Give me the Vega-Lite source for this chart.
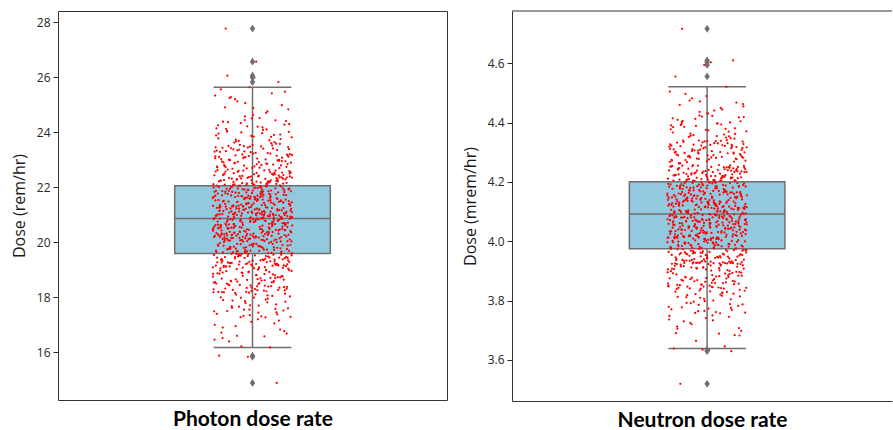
{
  "$schema": "https://vega.github.io/schema/vega-lite/v6.json",
  "background": "white",
  "padding": {"left": 10, "top": 10, "right": 0, "bottom": 0},
  "spacing": 14,
  "config": {
    "view": {"stroke": "#333333", "strokeWidth": 1},
    "axisY": {
      "grid": false, "domain": false, "domainColor": "#333333",
      "labelFont": "Open Sans", "labelFontSize": 12, "labelColor": "#262626", "labelPadding": 3,
      "tickColor": "#262626", "tickSize": 5,
      "titleFont": "Open Sans", "titleFontSize": 16, "titleFontWeight": "normal", "titleColor": "#1a1a1a", "titlePadding": 9
    },
    "axisX": {
      "grid": false, "domain": false, "domainColor": "#333333", "labels": false, "ticks": false,
      "titleFont": "Lato", "titleFontSize": 21, "titleFontWeight": "bold", "titleColor": "#000000", "titlePadding": 8
    }
  },
  "datasets": {
    "photonBox": [{"q1": 19.59, "median": 20.86, "q3": 22.05, "lower": 16.18, "upper": 25.63}],
    "photonOut": [{"dose": 27.76}, {"dose": 26.56}, {"dose": 26.05}, {"dose": 25.98}, {"dose": 25.82}, {"dose": 15.88}, {"dose": 15.84}, {"dose": 14.89}],
    "neutronBox": [{"q1": 3.975, "median": 4.092, "q3": 4.201, "lower": 3.638, "upper": 4.521}],
    "neutronOut": [{"dose": 4.717}, {"dose": 4.61}, {"dose": 4.604}, {"dose": 4.595}, {"dose": 4.556}, {"dose": 3.634}, {"dose": 3.629}, {"dose": 3.519}],
    "photon": [
      {"dose":20.47},{"dose":21.12},{"dose":20.03},{"dose":21.58},{"dose":20.86},{"dose":19.98},{"dose":21.33},{"dose":20.71},{"dose":21.69},{"dose":20.25},
      {"dose":22.12},{"dose":19.62},{"dose":23.12},{"dose":18.62},{"dose":23.62},{"dose":17.52},{"dose":24.62},{"dose":16.52},{"dose":25.41},{"dose":16.22},
      {"dose":20.92},{"dose":21.04},{"dose":20.38},{"dose":21.47},{"dose":20.11},{"dose":20.64},{"dose":21.26},{"dose":20.99},{"dose":21.71},{"dose":20.18},
      {"dose":21.84},{"dose":19.31},{"dose":22.78},{"dose":18.29},{"dose":24.08},{"dose":17.88},{"dose":24.98},{"dose":17.11},{"dose":25.55},{"dose":16.18},
      {"dose":20.55},{"dose":21.39},{"dose":20.83},{"dose":20.07},{"dose":21.15},{"dose":21.62},{"dose":20.33},{"dose":20.77},{"dose":21.08},{"dose":20.44},
      {"dose":22.47},{"dose":19.88},{"dose":23.41},{"dose":18.88},{"dose":23.81},{"dose":17.31},{"dose":25.27},{"dose":16.83},{"dose":25.63},{"dose":15.88},
      {"dose":21.51},{"dose":20.29},{"dose":20.95},{"dose":21.22},{"dose":20.61},{"dose":21.74},{"dose":20.14},{"dose":20.88},{"dose":21.43},{"dose":20.52},
      {"dose":21.96},{"dose":19.14},{"dose":22.93},{"dose":18.41},{"dose":24.33},{"dose":18.03},{"dose":24.51},{"dose":16.4},{"dose":25.82},{"dose":15.84},
      {"dose":21.01},{"dose":20.36},{"dose":21.29},{"dose":20.69},{"dose":21.56},{"dose":20.05},{"dose":20.81},{"dose":21.18},{"dose":20.42},{"dose":21.66},
      {"dose":22.31},{"dose":19.55},{"dose":23.27},{"dose":18.97},{"dose":23.7},{"dose":17.66},{"dose":24.83},{"dose":17.2},{"dose":26.05},{"dose":14.89},
      {"dose":20.23},{"dose":20.97},{"dose":21.35},{"dose":20.58},{"dose":21.05},{"dose":20.31},{"dose":21.48},{"dose":20.74},{"dose":20.09},{"dose":21.21},
      {"dose":21.78},{"dose":19.76},{"dose":22.69},{"dose":18.17},{"dose":23.95},{"dose":17.95},{"dose":25.12},{"dose":16.68},{"dose":26.56},{"dose":27.76},
      {"dose":20.66},{"dose":21.6},{"dose":20.19},{"dose":20.9},{"dose":21.31},{"dose":20.49},{"dose":21.11},{"dose":20.27},{"dose":21.53},{"dose":20.79},
      {"dose":22.58},{"dose":19.09},{"dose":23.5},{"dose":18.73},{"dose":24.21},{"dose":17.4},{"dose":24.7},{"dose":16.95},{"dose":25.47},{"dose":25.98},
      {"dose":20.01},{"dose":21.41},{"dose":20.63},{"dose":21.09},{"dose":20.35},{"dose":21.7},{"dose":20.85},{"dose":20.13},{"dose":21.25},{"dose":20.54},
      {"dose":22.05},{"dose":19.43},{"dose":23.04},{"dose":18.5},{"dose":23.58},{"dose":17.79},{"dose":25.33},{"dose":16.58},
      {"dose":20.94},{"dose":21.45},{"dose":20.22},{"dose":21.02},{"dose":20.68},{"dose":21.37},{"dose":20.4},{"dose":21.64},{"dose":20.06},{"dose":20.8},
      {"dose":21.9},{"dose":19.91},{"dose":22.85},{"dose":19.02},{"dose":24.4},{"dose":18.11},{"dose":24.9},{"dose":17.05},
      {"dose":21.17},{"dose":20.5},{"dose":21.55},{"dose":20.28},{"dose":20.91},{"dose":21.28},{"dose":20.6},{"dose":21.0},{"dose":20.16},{"dose":21.49},
      {"dose":22.39},{"dose":19.27},{"dose":23.35},{"dose":18.34},{"dose":23.88},{"dose":17.27},{"dose":25.2},{"dose":16.77},
      {"dose":20.73},{"dose":21.13},{"dose":20.37},{"dose":21.67},{"dose":20.03},{"dose":20.87},{"dose":21.23},{"dose":20.46},{"dose":21.59},{"dose":20.24},
      {"dose":22.17},{"dose":19.68},{"dose":23.18},{"dose":18.81},{"dose":24.12},{"dose":17.58},{"dose":24.57},{"dose":16.46},
      {"dose":20.98},{"dose":21.34},{"dose":20.57},{"dose":21.06},{"dose":20.32},{"dose":21.44},{"dose":20.76},{"dose":20.1},{"dose":21.19},{"dose":20.65},
      {"dose":21.81},{"dose":19.5},{"dose":22.72},{"dose":18.22},{"dose":23.66},{"dose":17.84},
      {"dose":21.63},{"dose":20.2},{"dose":20.89},{"dose":21.3},{"dose":20.48},{"dose":21.1},{"dose":20.26},{"dose":21.52},{"dose":20.78},{"dose":19.97},
      {"dose":22.63},{"dose":19.19},{"dose":23.46},{"dose":18.66},{"dose":24.02},{"dose":17.45},
      {"dose":21.4},{"dose":20.62},{"dose":21.07},{"dose":20.34},{"dose":21.72},{"dose":20.84},{"dose":20.12},{"dose":21.24},{"dose":20.53},{"dose":20.93},
      {"dose":22.0},{"dose":19.83},{"dose":22.99},{"dose":18.93},{"dose":23.77},{"dose":18.07},
      {"dose":21.46},{"dose":20.21},{"dose":21.03},{"dose":20.67},{"dose":21.36},{"dose":20.41},{"dose":21.65},{"dose":20.08},{"dose":20.82},{"dose":21.16},
      {"dose":22.26},{"dose":19.36},{"dose":23.22},{"dose":18.45},{"dose":24.29},{"dose":17.7},
      {"dose":20.51},{"dose":21.57},{"dose":20.3},{"dose":20.96},{"dose":21.27},{"dose":20.59},{"dose":20.99},{"dose":20.17},{"dose":21.5},{"dose":20.72},
      {"dose":21.93},{"dose":19.6},{"dose":22.81},{"dose":18.58},{"dose":23.91},{"dose":17.35},
      {"dose":21.14},{"dose":20.39},{"dose":21.68},{"dose":20.04},{"dose":20.86},{"dose":21.2},{"dose":20.45},{"dose":21.61},{"dose":20.23},{"dose":21.0},
      {"dose":22.51},{"dose":19.07},{"dose":23.53},{"dose":18.19},{"dose":23.6},{"dose":17.98},
      {"dose":21.33},{"dose":20.56},{"dose":21.08},{"dose":20.31},{"dose":21.42},{"dose":20.75},{"dose":20.11},{"dose":21.22},{"dose":20.64},{"dose":21.58},
      {"dose":22.09},{"dose":19.72},{"dose":23.08},{"dose":18.85},{"dose":24.17},{"dose":17.62},
      {"dose":20.19},{"dose":20.9},{"dose":21.29},{"dose":20.49},{"dose":21.12},{"dose":20.27},{"dose":21.54},{"dose":20.8},{"dose":20.0},{"dose":21.38},
      {"dose":21.87},{"dose":19.4},{"dose":22.88},{"dose":18.37},{"dose":23.84},{"dose":17.9},
      {"dose":20.63},{"dose":21.05},{"dose":20.36},{"dose":21.73},{"dose":20.83},{"dose":20.14},{"dose":21.26},{"dose":20.52},{"dose":20.95},{"dose":21.47},
      {"dose":22.35},{"dose":19.94},{"dose":23.31},{"dose":18.7},{"dose":24.44},{"dose":17.49},
      {"dose":20.22},{"dose":21.02},{"dose":20.69},{"dose":21.35},{"dose":20.43},{"dose":21.66},{"dose":20.07},{"dose":20.85},{"dose":21.18},{"dose":20.5},
      {"dose":22.21},{"dose":19.23},{"dose":22.75},{"dose":19.0},{"dose":23.73},{"dose":18.13},
      {"dose":21.56},{"dose":20.29},{"dose":20.97},{"dose":21.3},{"dose":20.61},{"dose":21.01},{"dose":20.15},{"dose":21.49},{"dose":20.74},{"dose":21.15},
      {"dose":21.76},{"dose":19.57},{"dose":23.15},{"dose":18.26},{"dose":24.05},{"dose":17.74},
      {"dose":20.38},{"dose":21.69},{"dose":20.05},{"dose":20.88},
      {"dose":22.44},{"dose":19.85},{"dose":23.43},{"dose":18.54},{"dose":23.99},{"dose":17.29},
      {"dose":22.02},{"dose":19.12},{"dose":22.96},{"dose":18.91},{"dose":24.25},{"dose":17.82},
      {"dose":22.29},{"dose":19.47},{"dose":23.25},{"dose":18.32},{"dose":23.64},{"dose":17.55},
      {"dose":21.99},{"dose":19.79},{"dose":22.67},{"dose":18.77},{"dose":23.86},{"dose":18.0},
      {"dose":22.55},{"dose":19.3},{"dose":23.38},{"dose":18.48},{"dose":24.36},{"dose":17.38},
      {"dose":22.14},{"dose":19.65},{"dose":23.01},{"dose":18.16},
      {"dose":21.82},{"dose":19.06},{"dose":22.9},{"dose":18.83},
      {"dose":22.41},{"dose":19.52},{"dose":23.48},{"dose":18.6},
      {"dose":22.07},{"dose":19.89},{"dose":23.1},{"dose":18.39},
      {"dose":21.95},{"dose":19.2},{"dose":22.83},{"dose":18.95},
      {"dose":22.6},{"dose":19.71},{"dose":23.29},{"dose":18.24},
      {"dose":22.19},{"dose":19.38},{"dose":22.7},{"dose":18.68},
      {"dose":21.88},{"dose":19.93},{"dose":23.2},{"dose":18.52},
      {"dose":22.33},{"dose":19.16},{"dose":23.44},{"dose":18.87},
      {"dose":22.03},{"dose":19.58},{"dose":22.94},{"dose":18.3},
      {"dose":22.49},{"dose":19.81},{"dose":23.06},{"dose":18.75},
      {"dose":21.79},{"dose":19.25},{"dose":22.79},{"dose":18.43},
      {"dose":22.24},{"dose":19.45},{"dose":23.36},{"dose":19.04},
      {"dose":21.97},{"dose":19.74},{"dose":23.14},{"dose":18.2},
      {"dose":22.57},{"dose":19.1},{"dose":22.87},{"dose":18.64},
      {"dose":22.1},{"dose":19.63},{"dose":23.52},{"dose":18.9},
      {"dose":21.85},{"dose":19.34},{"dose":22.98},{"dose":18.35},
      {"dose":22.37},{"dose":19.87},{"dose":23.24},{"dose":18.57},
      {"dose":22.16},{"dose":19.21},{"dose":22.73},{"dose":18.8},
      {"dose":21.91},{"dose":19.54},{"dose":23.4},{"dose":18.27},
      {"dose":22.53},{"dose":19.92},{"dose":23.02},{"dose":18.71},
      {"dose":22.06},{"dose":19.28},{"dose":22.91},{"dose":18.47},
      {"dose":22.28},{"dose":19.67},{"dose":23.33},{"dose":18.98},
      {"dose":21.8},{"dose":19.42},{"dose":22.76},{"dose":18.18},
      {"dose":22.45},{"dose":19.08},{"dose":23.17},{"dose":18.61},
      {"dose":22.01},{"dose":19.78},{"dose":23.47},{"dose":18.86},
      {"dose":22.22},{"dose":19.49},{"dose":22.84},{"dose":18.4},
      {"dose":21.94},{"dose":19.17},{"dose":23.09},{"dose":18.55},
      {"dose":22.61},{"dose":19.84},
      {"dose":22.13},{"dose":19.33},{"dose":21.86},{"dose":19.61},{"dose":22.32},{"dose":19.9},{"dose":22.04},{"dose":19.24},
      {"dose":22.42},{"dose":19.56},{"dose":21.77},{"dose":19.73},{"dose":22.27},{"dose":19.13},{"dose":21.98},{"dose":19.46},
      {"dose":22.52},{"dose":19.8},{"dose":22.11},{"dose":19.37},{"dose":21.83},{"dose":19.66},{"dose":22.38},{"dose":19.05},
      {"dose":22.18},{"dose":19.53},{"dose":21.92},{"dose":19.86},{"dose":22.64},{"dose":19.22},{"dose":22.08},{"dose":19.7},
      {"dose":22.3},{"dose":19.41},{"dose":21.89},{"dose":19.95},{"dose":22.46},{"dose":19.15},{"dose":22.15},{"dose":19.59},
      {"dose":21.84},{"dose":19.82},{"dose":22.36},{"dose":19.29},{"dose":22.0},{"dose":19.48},{"dose":22.56},{"dose":19.75},
      {"dose":22.2},{"dose":19.11},{"dose":21.96},{"dose":19.64},{"dose":22.43},{"dose":19.35},{"dose":22.09},{"dose":19.9},
      {"dose":21.79},{"dose":19.26},{"dose":22.25},{"dose":19.51},{"dose":22.5},{"dose":19.69},{"dose":21.87},{"dose":19.18},
      {"dose":22.34},{"dose":19.44},{"dose":22.12},{"dose":19.77},
      {"dose":20.44},{"dose":21.19},{"dose":22.8},{"dose":18.56},{"dose":20.02},{"dose":21.61},{"dose":21.92},{"dose":19.58},{"dose":20.9},{"dose":20.28},
      {"dose":21.36},{"dose":20.67},{"dose":23.68},{"dose":17.6},{"dose":21.07},{"dose":20.13},{"dose":22.23},{"dose":19.21},{"dose":21.52},{"dose":20.79},
      {"dose":20.35},{"dose":21.24},{"dose":23.22},{"dose":18.9},{"dose":20.58},{"dose":21.68},{"dose":22.54},{"dose":19.84},{"dose":20.06},{"dose":20.97},
      {"dose":21.42},{"dose":20.51},{"dose":24.75},{"dose":16.6},{"dose":21.1},{"dose":20.21},{"dose":21.78},{"dose":19.37},{"dose":21.57},{"dose":20.84},
      {"dose":20.4},{"dose":21.31},{"dose":22.95},{"dose":18.23},{"dose":20.62},{"dose":21.73},{"dose":22.4},{"dose":19.69},{"dose":20.17},{"dose":20.93},
      {"dose":21.2},{"dose":20.47},{"dose":24.14},{"dose":17.92},{"dose":21.64},{"dose":20.26},{"dose":22.08},{"dose":19.1},{"dose":21.03},{"dose":20.71},
      {"dose":21.45},{"dose":20.09},{"dose":23.42},{"dose":18.72},{"dose":20.87},{"dose":21.27},{"dose":21.86},{"dose":19.49},{"dose":20.55},{"dose":21.5},
      {"dose":20.32},{"dose":20.99},{"dose":25.05},{"dose":17.0},{"dose":21.13},{"dose":20.65},{"dose":22.31},{"dose":19.91},{"dose":21.7},{"dose":20.01},
      {"dose":20.82},{"dose":21.38},{"dose":22.71},{"dose":18.44},{"dose":20.43},{"dose":21.08},{"dose":22.62},{"dose":19.28},{"dose":20.24},{"dose":21.55},
      {"dose":20.76},{"dose":20.12},{"dose":23.9},{"dose":17.33},{"dose":21.32},{"dose":20.6},{"dose":22.01},{"dose":19.62},{"dose":21.66},{"dose":20.19},
      {"dose":20.94},{"dose":21.22},{"dose":23.11},{"dose":19.01},{"dose":20.5},{"dose":21.6},{"dose":21.81},{"dose":19.15},{"dose":20.3},{"dose":21.04},
      {"dose":20.7},{"dose":21.41},{"dose":24.38},{"dose":18.05},{"dose":20.08},{"dose":20.89},{"dose":22.17},{"dose":19.77},{"dose":21.17},{"dose":20.45},
      {"dose":21.53},{"dose":20.27},{"dose":23.34},{"dose":18.31},{"dose":20.98},{"dose":21.29},{"dose":22.47},{"dose":19.43},{"dose":20.57},{"dose":21.72},
      {"dose":20.15},{"dose":20.85},{"dose":24.5},{"dose":16.72},{"dose":21.11},{"dose":20.37},{"dose":21.95},{"dose":19.06},{"dose":21.48},{"dose":20.78},
      {"dose":20.04},{"dose":21.25},{"dose":22.86},{"dose":18.65},{"dose":20.63},{"dose":21.65},{"dose":22.26},{"dose":19.55},{"dose":20.2},{"dose":20.91},
      {"dose":21.35},{"dose":20.53},{"dose":23.75},{"dose":17.71},{"dose":21.01},{"dose":20.33},{"dose":22.59},{"dose":19.88},{"dose":21.58},{"dose":20.74},
      {"dose":20.1},{"dose":21.21},{"dose":23.05},{"dose":18.84},{"dose":20.66},{"dose":21.44},{"dose":21.88},{"dose":19.32},{"dose":20.23},{"dose":20.96},
      {"dose":21.14},{"dose":20.48},{"dose":25.24},{"dose":17.15},{"dose":21.69},{"dose":20.29},{"dose":22.12},{"dose":19.66},{"dose":21.06},{"dose":20.8},
      {"dose":21.39},{"dose":20.07},{"dose":23.49},{"dose":18.18},{"dose":20.86},{"dose":21.3},{"dose":22.36},{"dose":19.19},{"dose":20.54},{"dose":21.62},
      {"dose":20.39},{"dose":24.01},{"dose":17.44},{"dose":21.76},{"dose":19.8},{"dose":22.68},{"dose":18.5},{"dose":22.05},{"dose":19.46},{"dose":24.27},
      {"dose":17.99},{"dose":22.44},{"dose":19.93},{"dose":23.19},{"dose":18.96},{"dose":21.99},{"dose":19.24},{"dose":23.57},{"dose":17.55},{"dose":22.21},
      {"dose":19.6},{"dose":22.92},{"dose":18.38},{"dose":22.52},{"dose":19.12},{"dose":24.43},{"dose":17.86},{"dose":21.83},{"dose":19.73},{"dose":23.37},
      {"dose":18.76},{"dose":22.15},{"dose":19.39},{"dose":23.83},{"dose":17.28},{"dose":22.39},{"dose":19.86},{"dose":23.0},{"dose":18.27},{"dose":21.9},
      {"dose":19.27},{"dose":24.1},{"dose":18.1},{"dose":22.28},{"dose":19.52},{"dose":22.77},{"dose":18.59},{"dose":22.6},{"dose":19.09},{"dose":23.96},
      {"dose":17.67},{"dose":22.03},{"dose":19.7},{"dose":23.28},{"dose":18.92},{"dose":21.79},{"dose":19.34},{"dose":24.2},{"dose":17.5},{"dose":22.33},
      {"dose":19.81},{"dose":23.45},{"dose":18.42},{"dose":22.1},{"dose":19.16},{"dose":24.88},{"dose":16.9},{"dose":22.48},{"dose":19.57},{"dose":22.89},
      {"dose":18.69},{"dose":21.94},{"dose":19.44},{"dose":23.13},{"dose":18.2},{"dose":22.19},{"dose":19.94},{"dose":22.74},{"dose":18.81},{"dose":22.57},
      {"dose":19.22},{"dose":23.3},{"dose":18.53},{"dose":21.85},{"dose":19.64},{"dose":23.07},{"dose":18.35},{"dose":22.24},{"dose":19.31},{"dose":23.54},
      {"dose":18.99},{"dose":22.42},{"dose":19.76},{"dose":22.97},{"dose":18.63},{"dose":22.06},{"dose":19.5},{"dose":23.16},{"dose":18.25},{"dose":21.97},
      {"dose":19.14},{"dose":22.82},{"dose":18.78},{"dose":22.35},{"dose":19.83}
    ],
    "neutron": [
      {"dose":4.087},{"dose":4.142},{"dose":4.021},{"dose":4.163},{"dose":4.055},{"dose":4.118},{"dose":4.009},{"dose":4.097},{"dose":4.151},{"dose":4.038},
      {"dose":4.212},{"dose":3.962},{"dose":4.312},{"dose":3.882},{"dose":4.352},{"dose":3.782},{"dose":4.432},{"dose":3.712},{"dose":4.521},{"dose":3.664},
      {"dose":4.072},{"dose":4.129},{"dose":4.014},{"dose":4.108},{"dose":4.168},{"dose":4.046},{"dose":4.083},{"dose":4.137},{"dose":4.027},{"dose":4.061},
      {"dose":4.183},{"dose":3.931},{"dose":4.278},{"dose":3.849},{"dose":4.398},{"dose":3.818},{"dose":4.468},{"dose":3.741},{"dose":4.556},{"dose":3.645},
      {"dose":4.155},{"dose":4.092},{"dose":4.012},{"dose":4.121},{"dose":4.069},{"dose":4.146},{"dose":4.033},{"dose":4.101},{"dose":4.171},{"dose":4.052},
      {"dose":4.241},{"dose":3.988},{"dose":4.331},{"dose":3.908},{"dose":4.371},{"dose":3.761},{"dose":4.497},{"dose":3.683},{"dose":4.595},{"dose":3.638},
      {"dose":4.078},{"dose":4.134},{"dose":4.018},{"dose":4.113},{"dose":4.159},{"dose":4.043},{"dose":4.066},{"dose":4.125},{"dose":4.007},{"dose":4.094},
      {"dose":4.196},{"dose":3.944},{"dose":4.293},{"dose":3.861},{"dose":4.413},{"dose":3.833},{"dose":4.441},{"dose":3.73},{"dose":4.61},{"dose":3.634},
      {"dose":4.148},{"dose":4.029},{"dose":4.081},{"dose":4.166},{"dose":4.057},{"dose":4.105},{"dose":4.139},{"dose":4.016},{"dose":4.074},{"dose":4.119},
      {"dose":4.227},{"dose":3.975},{"dose":4.317},{"dose":3.917},{"dose":4.36},{"dose":3.796},{"dose":4.463},{"dose":3.75},{"dose":4.717},{"dose":3.629},
      {"dose":4.036},{"dose":4.089},{"dose":4.157},{"dose":4.049},{"dose":4.063},{"dose":4.131},{"dose":4.011},{"dose":4.099},{"dose":4.144},{"dose":4.024},
      {"dose":4.178},{"dose":3.996},{"dose":4.269},{"dose":3.847},{"dose":4.385},{"dose":3.825},{"dose":4.482},{"dose":3.698},{"dose":4.604},{"dose":3.519},
      {"dose":4.085},{"dose":4.173},{"dose":4.059},{"dose":4.111},{"dose":4.136},{"dose":4.019},{"dose":4.071},{"dose":4.127},{"dose":4.041},{"dose":4.093},
      {"dose":4.254},{"dose":3.926},{"dose":4.34},{"dose":3.893},{"dose":4.421},{"dose":3.77},{"dose":4.45},{"dose":3.725},{"dose":3.682},{"dose":3.633},
      {"dose":4.161},{"dose":4.053},{"dose":4.068},{"dose":4.115},{"dose":4.008},{"dose":4.102},{"dose":4.149},{"dose":4.031},{"dose":4.079},{"dose":4.164},
      {"dose":4.205},{"dose":3.953},{"dose":4.304},{"dose":3.87},{"dose":4.348},{"dose":3.809},{"dose":4.505},{"dose":3.688},
      {"dose":4.045},{"dose":4.107},{"dose":4.133},{"dose":4.015},{"dose":4.076},{"dose":4.122},{"dose":4.039},{"dose":4.091},{"dose":4.153},{"dose":4.058},
      {"dose":4.189},{"dose":4.001},{"dose":4.285},{"dose":3.912},{"dose":4.405},{"dose":3.831},{"dose":4.46},{"dose":3.745},
      {"dose":4.065},{"dose":4.14},{"dose":4.013},{"dose":4.096},{"dose":4.145},{"dose":4.026},{"dose":4.084},{"dose":4.169},{"dose":4.05},{"dose":4.112},
      {"dose":4.233},{"dose":3.937},{"dose":4.325},{"dose":3.854},{"dose":4.378},{"dose":3.757},{"dose":4.475},{"dose":3.707},
      {"dose":4.13},{"dose":4.02},{"dose":4.073},{"dose":4.124},{"dose":4.037},{"dose":4.088},{"dose":4.158},{"dose":4.047},{"dose":4.062},{"dose":4.117},
      {"dose":4.218},{"dose":3.978},{"dose":4.308},{"dose":3.901},{"dose":4.392},{"dose":3.788},{"dose":4.437},{"dose":3.736},
      {"dose":4.01},{"dose":4.1},{"dose":4.15},{"dose":4.03},{"dose":4.082},{"dose":4.167},{"dose":4.056},{"dose":4.109},{"dose":4.138},{"dose":4.017},
      {"dose":4.181},{"dose":3.96},{"dose":4.272},{"dose":3.842},{"dose":4.356},{"dose":3.814},
      {"dose":4.075},{"dose":4.12},{"dose":4.042},{"dose":4.095},{"dose":4.154},{"dose":4.051},{"dose":4.067},{"dose":4.128},{"dose":4.006},{"dose":4.098},
      {"dose":4.249},{"dose":3.929},{"dose":4.336},{"dose":3.886},{"dose":4.402},{"dose":3.775},
      {"dose":4.143},{"dose":4.025},{"dose":4.086},{"dose":4.172},{"dose":4.06},{"dose":4.114},{"dose":4.135},{"dose":4.022},{"dose":4.07},{"dose":4.126},
      {"dose":4.199},{"dose":3.993},{"dose":4.299},{"dose":3.913},{"dose":4.367},{"dose":3.827},
      {"dose":4.035},{"dose":4.09},{"dose":4.16},{"dose":4.048},{"dose":4.064},{"dose":4.116},{"dose":4.012},{"dose":4.103},{"dose":4.147},{"dose":4.032},
      {"dose":4.224},{"dose":3.946},{"dose":4.322},{"dose":3.865},{"dose":4.419},{"dose":3.8},
      {"dose":4.08},{"dose":4.165},{"dose":4.044},{"dose":4.106},{"dose":4.132},{"dose":4.018},{"dose":4.077},{"dose":4.123},{"dose":4.04},{"dose":4.093},
      {"dose":4.186},{"dose":3.97},{"dose":4.281},{"dose":3.878},{"dose":4.381},{"dose":3.765},
      {"dose":4.156},{"dose":4.054},{"dose":4.069},{"dose":4.141},{"dose":4.009},{"dose":4.097},{"dose":4.146},{"dose":4.028},{"dose":4.085},{"dose":4.17},
      {"dose":4.245},{"dose":3.924},{"dose":4.338},{"dose":3.839},{"dose":4.35},{"dose":3.822},
      {"dose":4.058},{"dose":4.11},{"dose":4.137},{"dose":4.023},{"dose":4.072},{"dose":4.129},{"dose":4.034},{"dose":4.088},{"dose":4.162},{"dose":4.05},
      {"dose":4.208},{"dose":3.982},{"dose":4.298},{"dose":3.905},{"dose":4.397},{"dose":3.792},
      {"dose":4.066},{"dose":4.118},{"dose":4.014},{"dose":4.104},{"dose":4.152},{"dose":4.031},{"dose":4.081},{"dose":4.166},{"dose":4.046},{"dose":4.108},
      {"dose":4.192},{"dose":3.95},{"dose":4.288},{"dose":3.857},{"dose":4.374},{"dose":3.812},
      {"dose":4.134},{"dose":4.019},{"dose":4.074},{"dose":4.121},{"dose":4.038},{"dose":4.091},{"dose":4.158},{"dose":4.055},{"dose":4.063},{"dose":4.144},
      {"dose":4.236},{"dose":4.004},{"dose":4.321},{"dose":3.89},{"dose":4.424},{"dose":3.779},
      {"dose":4.011},{"dose":4.099},{"dose":4.149},{"dose":4.027},{"dose":4.083},{"dose":4.173},{"dose":4.057},{"dose":4.112},{"dose":4.131},{"dose":4.016},
      {"dose":4.215},{"dose":3.933},{"dose":4.275},{"dose":3.92},{"dose":4.363},{"dose":3.836},
      {"dose":4.071},{"dose":4.125},{"dose":4.043},{"dose":4.095},{"dose":4.155},{"dose":4.049},{"dose":4.068},{"dose":4.119},{"dose":4.008},{"dose":4.101},
      {"dose":4.176},{"dose":3.967},{"dose":4.315},{"dose":3.846},{"dose":4.395},{"dose":3.804},
      {"dose":4.14},{"dose":4.033},{"dose":4.079},{"dose":4.163},
      {"dose":4.251},{"dose":3.995},{"dose":4.333},{"dose":3.874},{"dose":4.389},{"dose":3.759},
      {"dose":4.202},{"dose":3.927},{"dose":4.296},{"dose":3.911},{"dose":4.415},{"dose":3.816},
      {"dose":4.229},{"dose":3.957},{"dose":4.325},{"dose":3.852},{"dose":4.354},{"dose":3.785},
      {"dose":4.194},{"dose":3.989},{"dose":4.267},{"dose":3.897},{"dose":4.376},{"dose":3.83},
      {"dose":4.243},{"dose":3.94},{"dose":4.328},{"dose":3.868},{"dose":4.406},{"dose":3.768},
      {"dose":4.21},{"dose":3.974},{"dose":4.301},{"dose":3.841},
      {"dose":4.184},{"dose":3.923},{"dose":4.29},{"dose":3.903},
      {"dose":4.238},{"dose":3.962},{"dose":4.338},{"dose":3.88},
      {"dose":4.206},{"dose":3.999},{"dose":4.31},{"dose":3.859},
      {"dose":4.197},{"dose":3.93},{"dose":4.283},{"dose":3.915},
      {"dose":4.256},{"dose":3.981},{"dose":4.319},{"dose":3.844},
      {"dose":4.219},{"dose":3.948},{"dose":4.27},{"dose":3.888},
      {"dose":4.188},{"dose":4.003},{"dose":4.3},{"dose":3.872},
      {"dose":4.231},{"dose":3.926},{"dose":4.334},{"dose":3.907},
      {"dose":4.203},{"dose":3.968},{"dose":4.294},{"dose":3.85},
      {"dose":4.247},{"dose":3.991},{"dose":4.306},{"dose":3.895},
      {"dose":4.179},{"dose":3.935},{"dose":4.279},{"dose":3.863},
      {"dose":4.222},{"dose":3.955},{"dose":4.326},{"dose":3.919},
      {"dose":4.195},{"dose":3.984},{"dose":4.314},{"dose":3.84},
      {"dose":4.252},{"dose":3.925},{"dose":4.287},{"dose":3.884},
      {"dose":4.209},{"dose":3.973},{"dose":4.341},{"dose":3.91},
      {"dose":4.185},{"dose":3.944},{"dose":4.298},{"dose":3.855},
      {"dose":4.235},{"dose":3.997},{"dose":4.324},{"dose":3.877},
      {"dose":4.216},{"dose":3.931},{"dose":4.263},{"dose":3.9},
      {"dose":4.191},{"dose":3.964},{"dose":4.33},{"dose":3.847},
      {"dose":4.244},{"dose":4.002},{"dose":4.302},{"dose":3.891},
      {"dose":4.204},{"dose":3.938},{"dose":4.291},{"dose":3.867},
      {"dose":4.226},{"dose":3.977},{"dose":4.323},{"dose":3.918},
      {"dose":4.18},{"dose":3.952},{"dose":4.276},{"dose":3.843},
      {"dose":4.24},{"dose":3.928},{"dose":4.317},{"dose":3.881},
      {"dose":4.201},{"dose":3.988},{"dose":4.337},{"dose":3.906},
      {"dose":4.221},{"dose":3.959},{"dose":4.284},{"dose":3.86},
      {"dose":4.193},{"dose":3.927},{"dose":4.309},{"dose":3.875},
      {"dose":4.257},{"dose":3.994},
      {"dose":4.213},{"dose":3.943},{"dose":4.187},{"dose":3.971},{"dose":4.232},{"dose":4.0},{"dose":4.207},{"dose":3.934},
      {"dose":4.246},{"dose":3.966},{"dose":4.177},{"dose":3.983},{"dose":4.225},{"dose":3.923},{"dose":4.198},{"dose":3.956},
      {"dose":4.25},{"dose":3.99},{"dose":4.211},{"dose":3.947},{"dose":4.182},{"dose":3.976},{"dose":4.237},{"dose":3.925},
      {"dose":4.217},{"dose":3.963},{"dose":4.19},{"dose":3.996},{"dose":4.255},{"dose":3.932},{"dose":4.2},{"dose":3.98},
      {"dose":4.228},{"dose":3.951},{"dose":4.186},{"dose":4.005},{"dose":4.242},{"dose":3.925},{"dose":4.214},{"dose":3.969},
      {"dose":4.184},{"dose":3.992},{"dose":4.234},{"dose":3.939},{"dose":4.205},{"dose":3.958},{"dose":4.253},{"dose":3.985},
      {"dose":4.22},{"dose":3.921},{"dose":4.196},{"dose":3.974},{"dose":4.239},{"dose":3.945},{"dose":4.209},{"dose":3.998},
      {"dose":4.179},{"dose":3.936},{"dose":4.223},{"dose":3.961},{"dose":4.248},{"dose":3.979},{"dose":4.188},{"dose":3.928},
      {"dose":4.23},{"dose":3.954},{"dose":4.212},{"dose":3.987},
      {"dose":4.084},{"dose":4.139},{"dose":4.262},{"dose":3.886},{"dose":4.025},{"dose":4.161},{"dose":4.186},{"dose":3.958},{"dose":4.058},{"dose":4.115},
      {"dose":4.01},{"dose":4.098},{"dose":4.358},{"dose":3.787},{"dose":4.148},{"dose":4.04},{"dose":4.215},{"dose":3.929},{"dose":4.071},{"dose":4.126},
      {"dose":4.017},{"dose":4.106},{"dose":4.29},{"dose":3.853},{"dose":4.167},{"dose":4.047},{"dose":4.243},{"dose":3.986},{"dose":4.082},{"dose":4.134},
      {"dose":4.029},{"dose":4.063},{"dose":4.445},{"dose":3.72},{"dose":4.154},{"dose":4.09},{"dose":4.178},{"dose":3.942},{"dose":4.013},{"dose":4.12},
      {"dose":4.068},{"dose":4.145},{"dose":4.318},{"dose":3.905},{"dose":4.034},{"dose":4.103},{"dose":4.229},{"dose":3.971},{"dose":4.17},{"dose":4.053},
      {"dose":4.077},{"dose":4.131},{"dose":4.391},{"dose":3.82},{"dose":4.02},{"dose":4.112},{"dose":4.201},{"dose":3.999},{"dose":4.158},{"dose":4.044},
      {"dose":4.065},{"dose":4.124},{"dose":4.274},{"dose":3.864},{"dose":4.007},{"dose":4.096},{"dose":4.19},{"dose":3.925},{"dose":4.15},{"dose":4.028},
      {"dose":4.08},{"dose":4.164},{"dose":4.472},{"dose":3.748},{"dose":4.056},{"dose":4.104},{"dose":4.236},{"dose":3.951},{"dose":4.141},{"dose":4.015},
      {"dose":4.073},{"dose":4.118},{"dose":4.331},{"dose":3.916},{"dose":4.037},{"dose":4.089},{"dose":4.254},{"dose":4.003},{"dose":4.157},{"dose":4.048},
      {"dose":4.062},{"dose":4.13},{"dose":4.37},{"dose":3.764},{"dose":4.012},{"dose":4.1},{"dose":4.207},{"dose":3.936},{"dose":4.143},{"dose":4.023},
      {"dose":4.086},{"dose":4.172},{"dose":4.282},{"dose":3.845},{"dose":4.06},{"dose":4.11},{"dose":4.182},{"dose":3.979},{"dose":4.135},{"dose":4.019},
      {"dose":4.07},{"dose":4.127},{"dose":4.41},{"dose":3.829},{"dose":4.042},{"dose":4.094},{"dose":4.22},{"dose":3.963},{"dose":4.16},{"dose":4.052},
      {"dose":4.067},{"dose":4.116},{"dose":4.305},{"dose":3.894},{"dose":4.009},{"dose":4.102},{"dose":4.248},{"dose":3.927},{"dose":4.147},{"dose":4.031},
      {"dose":4.078},{"dose":4.165},{"dose":4.49},{"dose":3.69},{"dose":4.045},{"dose":4.107},{"dose":4.195},{"dose":3.992},{"dose":4.133},{"dose":4.016},
      {"dose":4.075},{"dose":4.122},{"dose":4.339},{"dose":3.872},{"dose":4.039},{"dose":4.092},{"dose":4.226},{"dose":3.948},{"dose":4.153},{"dose":4.057},
      {"dose":4.064},{"dose":4.14},{"dose":4.362},{"dose":3.798},{"dose":4.014},{"dose":4.097},{"dose":4.257},{"dose":3.968},{"dose":4.146},{"dose":4.026},
      {"dose":4.083},{"dose":4.168},{"dose":4.268},{"dose":3.909},{"dose":4.05},{"dose":4.113},{"dose":4.188},{"dose":3.923},{"dose":4.129},{"dose":4.021},
      {"dose":4.072},{"dose":4.125},{"dose":4.386},{"dose":3.823},{"dose":4.036},{"dose":4.087},{"dose":4.212},{"dose":3.985},{"dose":4.159},{"dose":4.046},
      {"dose":4.061},{"dose":4.117},{"dose":4.296},{"dose":3.857},{"dose":4.011},{"dose":4.099},{"dose":4.239},{"dose":3.954},{"dose":4.151},{"dose":4.03},
      {"dose":4.081},{"dose":4.455},{"dose":3.733},{"dose":4.176},{"dose":4.001},{"dose":4.323},{"dose":3.899},{"dose":4.204},{"dose":3.934},{"dose":4.418},
      {"dose":3.773},{"dose":4.245},{"dose":3.966},{"dose":4.279},{"dose":3.843},{"dose":4.198},{"dose":3.994},{"dose":4.346},{"dose":3.806},{"dose":4.222},
      {"dose":3.929},{"dose":4.311},{"dose":3.884},{"dose":4.251},{"dose":3.96},{"dose":4.401},{"dose":3.834},{"dose":4.184},{"dose":3.987},{"dose":4.286},
      {"dose":3.914},{"dose":4.217},{"dose":3.941},{"dose":4.379},{"dose":3.758},{"dose":4.233},{"dose":3.976},{"dose":4.335},{"dose":3.866},{"dose":4.193},
      {"dose":3.924},{"dose":4.394},{"dose":3.791},{"dose":4.228},{"dose":3.964},{"dose":4.264},{"dose":3.879},{"dose":4.255},{"dose":3.997},{"dose":4.355},
      {"dose":3.811},{"dose":4.203},{"dose":3.932},{"dose":4.3},{"dose":3.84},{"dose":4.181},{"dose":3.982},{"dose":4.423},{"dose":3.777},{"dose":4.238},
      {"dose":3.949},{"dose":4.327},{"dose":3.902},{"dose":4.21},{"dose":4.004},{"dose":4.43},{"dose":3.705},{"dose":4.249},{"dose":3.927},{"dose":4.272},
      {"dose":3.859},{"dose":4.196},{"dose":3.97},{"dose":4.314},{"dose":3.892},{"dose":4.219},{"dose":3.937},{"dose":4.289},{"dose":3.918},{"dose":4.187},
      {"dose":3.99},{"dose":4.34},{"dose":3.848},{"dose":4.241},{"dose":3.956},{"dose":4.277},{"dose":3.876},{"dose":4.224},{"dose":3.926},{"dose":4.307},
      {"dose":3.908},{"dose":4.206},{"dose":3.973},{"dose":4.32},{"dose":3.854},{"dose":4.252},{"dose":3.946},{"dose":4.283},{"dose":3.896},{"dose":4.199},
      {"dose":3.983},{"dose":4.297},{"dose":3.869},{"dose":4.234},{"dose":3.996}
    ]
  },
  "hconcat": [
    {
      "width": 389,
      "height": 389,
      "layer": [
        {
          "data": {"name": "photonBox"},
          "mark": {"type": "rule", "color": "#6f6f6f", "strokeWidth": 1.5},
          "encoding": {
            "x": {"datum": 0, "type": "quantitative", "scale": {"domain": [-1, 1]}, "axis": {"title": "Photon dose rate"}},
            "y": {"field": "lower", "type": "quantitative", "scale": {"domain": [14.27, 28.4], "nice": false, "zero": false}, "axis": {"title": "Dose (rem/hr)", "values": [16, 18, 20, 22, 24, 26, 28]}},
            "y2": {"field": "upper"}
          }
        },
        {
          "data": {"name": "photonBox"},
          "mark": {"type": "rect", "fill": "#93c9de", "stroke": "#6f6f6f", "strokeWidth": 1.5},
          "encoding": {
            "x": {"datum": -0.4, "type": "quantitative", "scale": {"domain": [-1, 1]}, "axis": {"title": "Photon dose rate"}},
            "x2": {"datum": 0.4},
            "y": {"field": "q1", "type": "quantitative", "scale": {"domain": [14.27, 28.4], "nice": false, "zero": false}, "axis": {"title": "Dose (rem/hr)", "values": [16, 18, 20, 22, 24, 26, 28]}},
            "y2": {"field": "q3"}
          }
        },
        {
          "data": {"name": "photonBox"},
          "mark": {"type": "rule", "color": "#6f6f6f", "strokeWidth": 1.5},
          "encoding": {
            "x": {"datum": -0.4, "type": "quantitative", "scale": {"domain": [-1, 1]}, "axis": {"title": "Photon dose rate"}},
            "x2": {"datum": 0.4},
            "y": {"field": "median", "type": "quantitative", "scale": {"domain": [14.27, 28.4], "nice": false, "zero": false}, "axis": {"title": "Dose (rem/hr)", "values": [16, 18, 20, 22, 24, 26, 28]}}
          }
        },
        {
          "data": {"name": "photonBox"},
          "transform": [{"fold": ["lower", "upper"], "as": ["end", "value"]}],
          "mark": {"type": "rule", "color": "#6f6f6f", "strokeWidth": 1.5},
          "encoding": {
            "x": {"datum": -0.2, "type": "quantitative", "scale": {"domain": [-1, 1]}, "axis": {"title": "Photon dose rate"}},
            "x2": {"datum": 0.2},
            "y": {"field": "value", "type": "quantitative", "scale": {"domain": [14.27, 28.4], "nice": false, "zero": false}, "axis": {"title": "Dose (rem/hr)", "values": [16, 18, 20, 22, 24, 26, 28]}}
          }
        },
        {
          "data": {"name": "photon"},
          "transform": [
            {"window": [{"op": "row_number", "as": "i"}]},
            {"calculate": "((datum.i * 0.6180339887) % 1 - 0.5) * 0.41", "as": "jitter"}
          ],
          "mark": {"type": "circle", "color": "#ff0000", "size": 5, "opacity": 1},
          "encoding": {
            "x": {"field": "jitter", "type": "quantitative", "scale": {"domain": [-1, 1]}, "axis": {"title": "Photon dose rate"}},
            "y": {"field": "dose", "type": "quantitative", "scale": {"domain": [14.27, 28.4], "nice": false, "zero": false}, "axis": {"title": "Dose (rem/hr)", "values": [16, 18, 20, 22, 24, 26, 28]}}
          }
        },
        {
          "data": {"name": "photonOut"},
          "mark": {"type": "point", "shape": "M0,-1L0.7,0L0,1L-0.7,0Z", "filled": true, "color": "#6f6f6f", "size": 60, "opacity": 1},
          "encoding": {
            "x": {"datum": 0, "type": "quantitative", "scale": {"domain": [-1, 1]}, "axis": {"title": "Photon dose rate"}},
            "y": {"field": "dose", "type": "quantitative", "scale": {"domain": [14.27, 28.4], "nice": false, "zero": false}, "axis": {"title": "Dose (rem/hr)", "values": [16, 18, 20, 22, 24, 26, 28]}}
          }
        }
      ]
    },
    {
      "width": 380,
      "height": 390,
      "view": {"stroke": null},
      "layer": [
        {
          "data": {"name": "neutronBox"},
          "mark": {"type": "rule", "color": "#333333", "strokeWidth": 1},
          "encoding": {
            "y": {"datum": 4.777, "type": "quantitative", "scale": {"domain": [3.461, 4.777], "nice": false, "zero": false}, "axis": {"title": "Dose (mrem/hr)", "values": [3.6, 3.8, 4.0, 4.2, 4.4, 4.6], "format": ".1f", "domain": true}}
          }
        },
        {
          "data": {"name": "neutronBox"},
          "mark": {"type": "rule", "color": "#6f6f6f", "strokeWidth": 1.5},
          "encoding": {
            "x": {"datum": 0, "type": "quantitative", "scale": {"domain": [-1.0036, 0.951]}, "axis": {"title": "Neutron dose rate", "domain": true}},
            "y": {"field": "lower", "type": "quantitative", "scale": {"domain": [3.461, 4.777], "nice": false, "zero": false}, "axis": {"title": "Dose (mrem/hr)", "values": [3.6, 3.8, 4.0, 4.2, 4.4, 4.6], "format": ".1f", "domain": true}},
            "y2": {"field": "upper"}
          }
        },
        {
          "data": {"name": "neutronBox"},
          "mark": {"type": "rect", "fill": "#93c9de", "stroke": "#6f6f6f", "strokeWidth": 1.5},
          "encoding": {
            "x": {"datum": -0.4, "type": "quantitative", "scale": {"domain": [-1.0036, 0.951]}, "axis": {"title": "Neutron dose rate", "domain": true}},
            "x2": {"datum": 0.4},
            "y": {"field": "q1", "type": "quantitative", "scale": {"domain": [3.461, 4.777], "nice": false, "zero": false}, "axis": {"title": "Dose (mrem/hr)", "values": [3.6, 3.8, 4.0, 4.2, 4.4, 4.6], "format": ".1f", "domain": true}},
            "y2": {"field": "q3"}
          }
        },
        {
          "data": {"name": "neutronBox"},
          "mark": {"type": "rule", "color": "#6f6f6f", "strokeWidth": 1.5},
          "encoding": {
            "x": {"datum": -0.4, "type": "quantitative", "scale": {"domain": [-1.0036, 0.951]}, "axis": {"title": "Neutron dose rate", "domain": true}},
            "x2": {"datum": 0.4},
            "y": {"field": "median", "type": "quantitative", "scale": {"domain": [3.461, 4.777], "nice": false, "zero": false}, "axis": {"title": "Dose (mrem/hr)", "values": [3.6, 3.8, 4.0, 4.2, 4.4, 4.6], "format": ".1f", "domain": true}}
          }
        },
        {
          "data": {"name": "neutronBox"},
          "transform": [{"fold": ["lower", "upper"], "as": ["end", "value"]}],
          "mark": {"type": "rule", "color": "#6f6f6f", "strokeWidth": 1.5},
          "encoding": {
            "x": {"datum": -0.2, "type": "quantitative", "scale": {"domain": [-1.0036, 0.951]}, "axis": {"title": "Neutron dose rate", "domain": true}},
            "x2": {"datum": 0.2},
            "y": {"field": "value", "type": "quantitative", "scale": {"domain": [3.461, 4.777], "nice": false, "zero": false}, "axis": {"title": "Dose (mrem/hr)", "values": [3.6, 3.8, 4.0, 4.2, 4.4, 4.6], "format": ".1f", "domain": true}}
          }
        },
        {
          "data": {"name": "neutron"},
          "transform": [
            {"window": [{"op": "row_number", "as": "i"}]},
            {"calculate": "((datum.i * 0.6180339887) % 1 - 0.5) * 0.41", "as": "jitter"}
          ],
          "mark": {"type": "circle", "color": "#ff0000", "size": 5, "opacity": 1},
          "encoding": {
            "x": {"field": "jitter", "type": "quantitative", "scale": {"domain": [-1.0036, 0.951]}, "axis": {"title": "Neutron dose rate", "domain": true}},
            "y": {"field": "dose", "type": "quantitative", "scale": {"domain": [3.461, 4.777], "nice": false, "zero": false}, "axis": {"title": "Dose (mrem/hr)", "values": [3.6, 3.8, 4.0, 4.2, 4.4, 4.6], "format": ".1f", "domain": true}}
          }
        },
        {
          "data": {"name": "neutronOut"},
          "mark": {"type": "point", "shape": "M0,-1L0.7,0L0,1L-0.7,0Z", "filled": true, "color": "#6f6f6f", "size": 60, "opacity": 1},
          "encoding": {
            "x": {"datum": 0, "type": "quantitative", "scale": {"domain": [-1.0036, 0.951]}, "axis": {"title": "Neutron dose rate", "domain": true}},
            "y": {"field": "dose", "type": "quantitative", "scale": {"domain": [3.461, 4.777], "nice": false, "zero": false}, "axis": {"title": "Dose (mrem/hr)", "values": [3.6, 3.8, 4.0, 4.2, 4.4, 4.6], "format": ".1f", "domain": true}}
          }
        }
      ]
    }
  ]
}
